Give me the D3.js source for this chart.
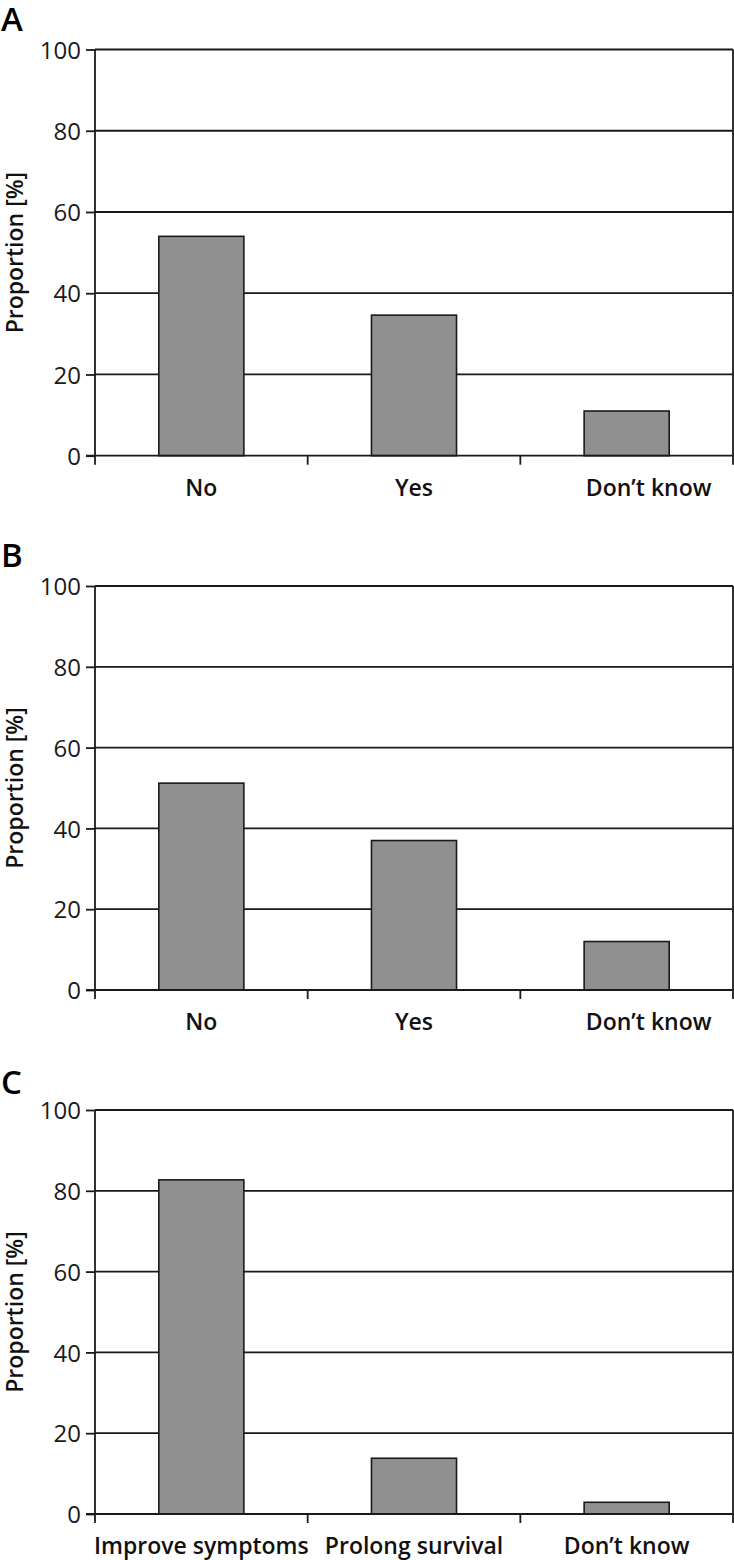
<!DOCTYPE html>
<html><head><meta charset="utf-8">
<script src="https://cdn.jsdelivr.net/npm/d3@7"></script>
<style>body{margin:0;background:#fff}svg{display:block}text{font-family:"Open Sans",sans-serif}</style>
</head><body>
<script>
const panelLetters = ["A", "B", "C"];
const categoriesA = ["No", "Yes", "Don\u2019t know"];
const valuesA = [54, 34.6, 11];
const categoriesB = ["No", "Yes", "Don\u2019t know"];
const valuesB = [51.2, 37, 12];
const categoriesC = ["Improve symptoms", "Prolong survival", "Don\u2019t know"];
const valuesC = [82.7, 13.8, 2.9];
const yTicks = [0, 20, 40, 60, 80, 100];
const yLabel = "Proportion [%]";

const W = 734, H = 1560;
const svg = d3.select("body").append("svg").attr("width", W).attr("height", H);

const panels = [
  {letter: panelLetters[0], cats: categoriesA, vals: valuesA, top: 49.5, bottom: 455.7, letterY: 31, lastDx: 22},
  {letter: panelLetters[1], cats: categoriesB, vals: valuesB, top: 586, bottom: 990, letterY: 567, lastDx: 22},
  {letter: panelLetters[2], cats: categoriesC, vals: valuesC, top: 1110, bottom: 1514, letterY: 1094, lastDx: 0}
];
const left = 95, right = 733;
const lineCol = "#1a1a1a";

panels.forEach(p => {
  const g = svg.append("g");
  const x = d3.scaleBand().domain(p.cats).range([left, right]).paddingInner(0.6).paddingOuter(0.3);
  const y = d3.scaleLinear().domain([0, 100]).range([p.bottom, p.top]);

  g.selectAll("line.grid").data(yTicks.filter(t => t > 0)).join("line")
    .attr("x1", left).attr("x2", right)
    .attr("y1", d => y(d)).attr("y2", d => y(d))
    .attr("stroke", lineCol).attr("stroke-width", 1.8);
  g.append("line").attr("x1", right).attr("x2", right).attr("y1", y(100)).attr("y2", y(0) + 9)
    .attr("stroke", lineCol).attr("stroke-width", 1.8);

  g.selectAll("rect").data(p.vals).join("rect")
    .attr("x", (d, i) => x(p.cats[i]))
    .attr("width", x.bandwidth())
    .attr("y", d => y(d))
    .attr("height", d => y(0) - y(d))
    .attr("fill", "#909090").attr("stroke", lineCol).attr("stroke-width", 1.6);

  const ya = g.append("g").attr("transform", `translate(${left},0)`)
    .call(d3.axisLeft(y).tickValues(yTicks).tickSize(9).tickPadding(5));
  ya.select(".domain").attr("stroke", lineCol).attr("stroke-width", 1.8).attr("d", `M0,${y(100)}V${y(0) + 9}`);
  ya.selectAll(".tick line").attr("stroke", lineCol).attr("stroke-width", 1.8);
  ya.selectAll(".tick text").attr("font-size", 24).attr("fill", "#1a1a1a").attr("font-family", "Open Sans").attr("font-weight", 400).attr("dy", "0.36em");

  g.append("line").attr("x1", left - 9).attr("x2", right).attr("y1", y(0)).attr("y2", y(0))
    .attr("stroke", lineCol).attr("stroke-width", 1.8);
  const bounds = p.cats.slice(1).map(c => x(c) - x.step() * x.paddingInner() / 2);
  g.selectAll("line.xt").data(bounds).join("line")
    .attr("x1", d => d).attr("x2", d => d).attr("y1", y(0)).attr("y2", y(0) + 9)
    .attr("stroke", lineCol).attr("stroke-width", 1.8);

  g.selectAll("text.cat").data(p.cats).join("text")
    .attr("x", (d, i) => x(d) + x.bandwidth() / 2 + (i === p.cats.length - 1 ? p.lastDx : 0))
    .attr("y", y(0) + 40)
    .attr("text-anchor", "middle")
    .attr("font-size", 23).attr("font-weight", 600).attr("fill", "#111")
    .text(d => d);

  g.append("text")
    .attr("transform", `translate(23,${(y(0) + y(100)) / 2}) rotate(-90)`)
    .attr("text-anchor", "middle")
    .attr("font-size", 23).attr("font-weight", 600).attr("fill", "#111")
    .text(yLabel);

  g.append("text").attr("x", 1).attr("y", p.letterY)
    .attr("font-size", 33).attr("font-weight", 600).attr("fill", "#000")
    .text(p.letter);
});
</script>
</body></html>
